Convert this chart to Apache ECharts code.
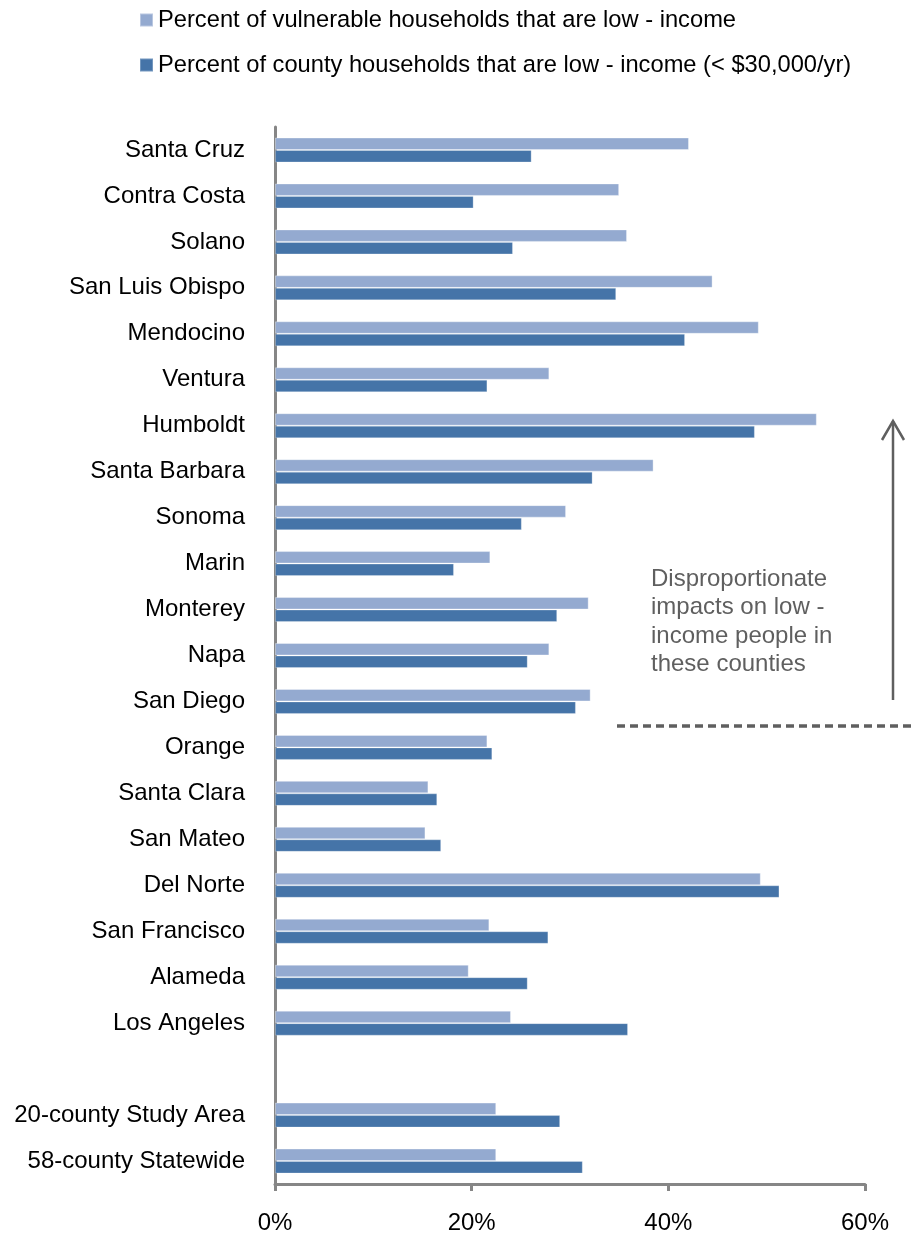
<!DOCTYPE html>
<html>
<head>
<meta charset="utf-8">
<script src="https://cdn.jsdelivr.net/npm/echarts@6/dist/echarts.min.js"></script>
<style>
html,body{margin:0;padding:0;background:#fff;}
#chart{width:915px;height:1241px;}
</style>
</head>
<body>
<div id="chart"></div>
<script>
var categories = ['Santa Cruz','Contra Costa','Solano','San Luis Obispo','Mendocino','Ventura','Humboldt','Santa Barbara','Sonoma','Marin','Monterey','Napa','San Diego','Orange','Santa Clara','San Mateo','Del Norte','San Francisco','Alameda','Los Angeles','','20-county Study Area','58-county Statewide'];
var vulnerableLowIncome = [42.1, 35.0, 35.8, 44.5, 49.2, 27.9, 55.1, 38.5, 29.6, 21.9, 31.9, 27.9, 32.1, 21.6, 15.6, 15.3, 49.4, 21.8, 19.7, 24.0, null, 22.5, 22.5];
var countyLowIncome = [26.1, 20.2, 24.2, 34.7, 41.7, 21.6, 48.8, 32.3, 25.1, 18.2, 28.7, 25.7, 30.6, 22.1, 16.5, 16.9, 51.3, 27.8, 25.7, 35.9, null, 29.0, 31.3];
var seriesNames = ['Percent of vulnerable households that are low - income', 'Percent of county households that are low - income (< $30,000/yr)'];
var xTicks = [0, 20, 40, 60];
var annotationLines = ['Disproportionate', 'impacts on low -', 'income people in', 'these counties'];

var FONT = '"Liberation Sans", Arial, sans-serif';
var chart = echarts.init(document.getElementById('chart'), null, {renderer: 'canvas'});
var option = {
  backgroundColor: '#ffffff',
  animation: false,
  textStyle: {fontFamily: FONT},
  legend: {
    orient: 'vertical',
    left: 139,
    top: 8,
    padding: [0, 0, 0, 0],
    icon: 'rect',
    itemWidth: 13,
    itemHeight: 13,
    itemGap: 21,
    textStyle: {fontSize: 23.7, color: '#000', fontFamily: FONT, lineHeight: 23},
    data: seriesNames
  },
  grid: {left: 275, right: 50, top: 127, bottom: 57, containLabel: false},
  xAxis: {
    type: 'value',
    min: xTicks[0],
    max: xTicks[xTicks.length - 1],
    interval: 20,
    splitLine: {show: false},
    axisLine: {show: true, lineStyle: {color: '#868686', width: 3}},
    axisTick: {show: true, length: 7, lineStyle: {color: '#868686', width: 3}},
    axisLabel: {formatter: '{value}%', fontSize: 24, color: '#000', margin: 27, fontFamily: FONT}
  },
  yAxis: {
    type: 'category',
    inverse: true,
    data: categories,
    axisLine: {show: true, lineStyle: {color: '#868686', width: 3}},
    axisTick: {show: false},
    axisLabel: {fontSize: 24, color: '#000', margin: 30, fontFamily: FONT}
  },
  series: [
    {
      name: seriesNames[0],
      type: 'bar',
      data: vulnerableLowIncome,
      barWidth: 12.5,
      barGap: '0%',
      itemStyle: {color: '#94AAD0', borderColor: 'rgba(255,255,255,0.35)', borderWidth: 1}
    },
    {
      name: seriesNames[1],
      type: 'bar',
      data: countyLowIncome,
      barWidth: 12.5,
      barGap: '0%',
      itemStyle: {color: '#4574A8', borderColor: 'rgba(255,255,255,0.25)', borderWidth: 1}
    }
  ],
  graphic: [
    {
      type: 'text',
      left: 651,
      top: 565,
      style: {
        text: annotationLines.join('\n'),
        fontSize: 24,
        lineHeight: 28.5,
        fill: '#5f5f5f',
        fontFamily: FONT
      }
    },
    {
      type: 'line',
      shape: {x1: 893, y1: 421, x2: 893, y2: 700},
      style: {stroke: '#5f5f5f', lineWidth: 2.5}
    },
    {
      type: 'polyline',
      shape: {points: [[882, 440], [893, 421], [904, 440]]},
      style: {stroke: '#5f5f5f', lineWidth: 2.5, fill: null}
    },
    {
      type: 'line',
      shape: {x1: 617, y1: 726, x2: 915, y2: 726},
      style: {stroke: '#5f5f5f', lineWidth: 3.5, lineDash: [8, 5]}
    }
  ]
};
chart.setOption(option);
</script>
</body>
</html>
